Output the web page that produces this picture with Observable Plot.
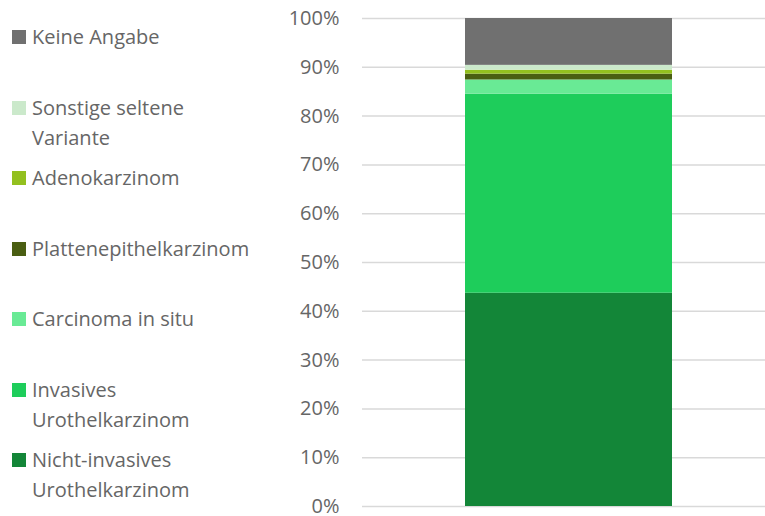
<!DOCTYPE html>
<html>
<head>
<meta charset="utf-8">
<script src="https://cdn.jsdelivr.net/npm/d3@7"></script>
<script src="https://cdn.jsdelivr.net/npm/@observablehq/plot@0.6"></script>
<style>
  html, body { margin: 0; padding: 0; background: #fff; }
  #wrap { position: relative; width: 765px; height: 516px; font-family: "Open Sans", sans-serif; }
  #legend { position: absolute; left: 0; top: 0; width: 300px; }
  .entry { position: absolute; left: 12px; font-size: 20px; line-height: 30px; color: #666; display: flex; }
  .sw { width: 14px; height: 14px; margin-top: 8px; margin-right: 6px; flex: none; }
  #chart { position: absolute; left: 0; top: 0; }
</style>
</head>
<body>
<div id="wrap">
  <div id="chart"></div>
  <div id="legend"></div>
</div>
<script>
// Categories from bottom of the stack to top
const categories = [
  "Nicht-invasives Urothelkarzinom",
  "Invasives Urothelkarzinom",
  "Carcinoma in situ",
  "Plattenepithelkarzinom",
  "Adenokarzinom",
  "Sonstige seltene Variante",
  "Keine Angabe"
];
const values = [43.7, 40.8, 2.9, 1.2, 0.8, 1.0, 9.6];
const colors = ["#138638", "#1ecd5b", "#69ea95", "#4a5e12", "#93c01f", "#cbe9cb", "#707070"];
const legendLabels = [
  ["Keine Angabe"],
  ["Sonstige seltene", "Variante"],
  ["Adenokarzinom"],
  ["Plattenepithelkarzinom"],
  ["Carcinoma in situ"],
  ["Invasives", "Urothelkarzinom"],
  ["Nicht-invasives", "Urothelkarzinom"]
];
const yTicks = [0, 10, 20, 30, 40, 50, 60, 70, 80, 90, 100];

const data = categories.map((c, i) => ({group: "A", category: c, value: values[i]}));

const chart = Plot.plot({
  width: 765,
  height: 516,
  marginLeft: 362,
  marginRight: 0,
  marginTop: 18,
  marginBottom: 10,
  style: {fontFamily: "Open Sans, sans-serif", fontSize: "20px", color: "#666", background: "transparent"},
  x: {domain: ["A"], paddingInner: 0, paddingOuter: 0, axis: null},
  y: {domain: [0, 100], ticks: yTicks, tickFormat: d => d + "%", label: null, tickSize: 0, tickPadding: 23},
  color: {domain: categories, range: colors},
  marks: [
    Plot.gridY(yTicks, {stroke: "#d9d9d9", strokeOpacity: 1, strokeWidth: 1.5}),
    Plot.barY(data, {x: "group", y: "value", fill: "category", order: null, insetLeft: 103, insetRight: 93}),
    Plot.axisY(yTicks, {tickSize: 0, tickPadding: 23, tickFormat: d => d + "%", label: null, fill: "#666", fontSize: 20})
  ]
});
document.getElementById("chart").appendChild(chart);

// Legend (top to bottom: reverse of stack order)
const legend = document.getElementById("legend");
const legendColors = colors.slice().reverse();
legendLabels.forEach((lines, i) => {
  const e = document.createElement("div");
  e.className = "entry";
  e.style.top = (22 + i * 70.5) + "px";
  const sw = document.createElement("div");
  sw.className = "sw";
  sw.style.background = legendColors[i];
  const t = document.createElement("div");
  t.innerHTML = lines.join("<br>");
  e.appendChild(sw);
  e.appendChild(t);
  legend.appendChild(e);
});
</script>
</body>
</html>
